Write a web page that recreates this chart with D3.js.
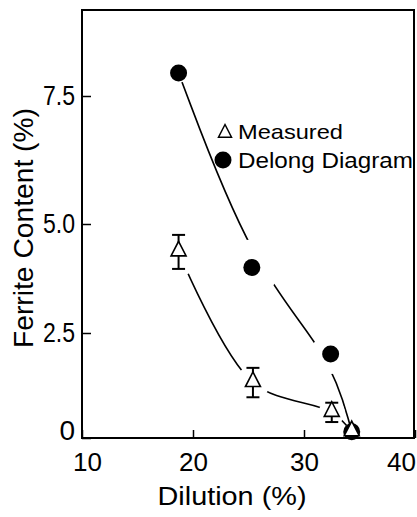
<!DOCTYPE html>
<html>
<head>
<meta charset="utf-8">
<script src="https://cdnjs.cloudflare.com/ajax/libs/d3/7.8.5/d3.min.js"></script>
<style>
  body { margin: 0; background: #fff; }
  svg { display: block; font-family: "Liberation Sans", Arial, sans-serif; }
</style>
</head>
<body>
<div id="chart"></div>
<script>
// Data
var xTicks = [10, 20, 30, 40];
var yTicks = [0, 2.5, 5.0, 7.5];
var yTickLabels = ['0', '2.5', '5.0', '7.5'];

var delongDilution = [18.7, 25.3, 32.4, 34.3];
var delongFerrite = [7.95, 4.0, 2.0, 0.15];

var measuredDilution = [18.7, 25.4, 32.5, 34.3];
var measuredFerrite = [4.36, 1.32, 0.61, 0.15];
var measuredError = [0.39, 0.35, 0.23, 0];

var seriesNames = ['Measured', 'Delong Diagram'];

// Layout
var WIDTH = 417;
var HEIGHT = 517;
var LEFT = 82, RIGHT = 414, TOP = 10, BOTTOM = 438;

// gap around each marker where the curve is broken (px)
var delongGap = [10, 28, 20, 8];
var measuredGap = [24, 17, 13, 8];

var svg = d3.select('#chart').append('svg')
  .attr('width', WIDTH)
  .attr('height', HEIGHT);

var x = d3.scaleLinear().domain([10, 40]).range([LEFT, RIGHT + 1]);
// the printed y axis is not evenly spaced, so map each tick piecewise
var y = d3.scaleLinear().domain(yTicks).range([BOTTOM, 333, 224, 96]);

var delong = delongDilution.map(function(d, i) {
  return { x: d, y: delongFerrite[i], gap: delongGap[i] };
});
var measured = measuredDilution.map(function(d, i) {
  return { x: d, y: measuredFerrite[i], err: measuredError[i], gap: measuredGap[i] };
});

// Mask that cuts the curves open around the markers
var mask = svg.append('defs').append('mask').attr('id', 'gaps');
mask.append('rect')
  .attr('width', WIDTH).attr('height', HEIGHT).attr('fill', '#fff');
mask.selectAll('circle')
  .data(delong.concat(measured))
  .enter().append('circle')
  .attr('cx', function(d) { return x(d.x); })
  .attr('cy', function(d) { return y(d.y); })
  .attr('r', function(d) { return d.gap; })
  .attr('fill', '#000');

// Frame
svg.append('rect')
  .attr('x', LEFT).attr('y', TOP)
  .attr('width', RIGHT - LEFT).attr('height', BOTTOM - TOP)
  .attr('fill', 'none').attr('stroke', '#000').attr('stroke-width', 2);

// Axes with inward ticks
var yAxis = svg.append('g')
  .attr('transform', 'translate(' + LEFT + ',0)')
  .call(d3.axisLeft(y).tickValues(yTicks).tickSize(-9).tickPadding(7)
    .tickFormat(function(d, i) { return yTickLabels[i]; }));
yAxis.select('.domain').remove();
yAxis.selectAll('line').attr('stroke-width', 1.5);
yAxis.selectAll('text')
  .attr('font-size', 28)
  .attr('fill', '#000')
  .each(function(d, i) {
    if (yTickLabels[i].length > 1) {
      d3.select(this).attr('textLength', 32).attr('lengthAdjust', 'spacingAndGlyphs');
    } else {
      d3.select(this).attr('dy', '0.05em');
    }
  });

var xShift = [5, 0, 0, -14];
var xAxis = svg.append('g')
  .attr('transform', 'translate(0,' + BOTTOM + ')')
  .call(d3.axisBottom(x).tickValues(xTicks).tickSize(-8).tickPadding(15)
    .tickFormat(d3.format('d')));
xAxis.select('.domain').remove();
xAxis.selectAll('line').attr('stroke-width', 1.5);
xAxis.selectAll('text')
  .attr('font-size', 26)
  .attr('fill', '#000')
  .attr('dx', function(d, i) { return xShift[i]; });

// Axis titles
svg.append('text')
  .attr('x', 232).attr('y', 505)
  .attr('text-anchor', 'middle')
  .attr('font-size', 25)
  .attr('textLength', 149).attr('lengthAdjust', 'spacingAndGlyphs')
  .text('Dilution (%)');

svg.append('text')
  .attr('transform', 'translate(33,228) rotate(-90)')
  .attr('text-anchor', 'middle')
  .attr('font-size', 28)
  .attr('textLength', 240).attr('lengthAdjust', 'spacingAndGlyphs')
  .text('Ferrite Content (%)');

// Curves: the Delong curve is a smoothed fit, the measured one runs through the points
function lineWith(curve) {
  return d3.line()
    .x(function(d) { return x(d.x); })
    .y(function(d) { return y(d.y); })
    .curve(curve);
}

var curves = svg.append('g').attr('mask', 'url(#gaps)');
curves.append('path')
  .attr('d', lineWith(d3.curveBasis)(delong));
curves.append('path')
  .attr('d', lineWith(d3.curveCatmullRom.alpha(0.5))(measured));
curves.selectAll('path')
  .attr('fill', 'none')
  .attr('stroke', '#000')
  .attr('stroke-width', 1.6);

// Triangle marker path centred on the data value
function trianglePath(cx, cy, s) {
  return 'M' + cx + ',' + (cy - s * 1.15) +
    'L' + (cx + s) + ',' + (cy + s * 0.8) +
    'L' + (cx - s) + ',' + (cy + s * 0.8) + 'Z';
}

// Delong diagram points
svg.append('g').selectAll('circle')
  .data(delong)
  .enter().append('circle')
  .attr('cx', function(d) { return x(d.x); })
  .attr('cy', function(d) { return y(d.y); })
  .attr('r', 8.5)
  .attr('fill', '#000');

// Measured error bars
var bars = svg.append('g')
  .attr('stroke', '#000')
  .attr('stroke-width', 2)
  .selectAll('g')
  .data(measured.filter(function(d) { return d.err > 0; }))
  .enter().append('g');
bars.append('line')
  .attr('x1', function(d) { return x(d.x); })
  .attr('x2', function(d) { return x(d.x); })
  .attr('y1', function(d) { return y(d.y - d.err); })
  .attr('y2', function(d) { return y(d.y + d.err); });
[-1, 1].forEach(function(sign) {
  bars.append('line')
    .attr('x1', function(d) { return x(d.x) - 6.5; })
    .attr('x2', function(d) { return x(d.x) + 6.5; })
    .attr('y1', function(d) { return y(d.y + sign * d.err); })
    .attr('y2', function(d) { return y(d.y + sign * d.err); });
});

// Measured points
svg.append('g').selectAll('path')
  .data(measured)
  .enter().append('path')
  .attr('d', function(d) { return trianglePath(x(d.x), y(d.y) - 2, 7.5); })
  .attr('fill', '#fff')
  .attr('stroke', '#000')
  .attr('stroke-width', 1.6);

// Legend
var legend = svg.append('g');
legend.append('path')
  .attr('d', trianglePath(225, 132, 6.5))
  .attr('fill', '#fff')
  .attr('stroke', '#000')
  .attr('stroke-width', 1.5);
legend.append('circle')
  .attr('cx', 223).attr('cy', 160).attr('r', 8.5)
  .attr('fill', '#000');
legend.append('text')
  .attr('x', 238).attr('y', 139)
  .attr('font-size', 21)
  .attr('textLength', 105).attr('lengthAdjust', 'spacingAndGlyphs')
  .text(seriesNames[0]);
legend.append('text')
  .attr('x', 238).attr('y', 168)
  .attr('font-size', 22)
  .attr('textLength', 175).attr('lengthAdjust', 'spacingAndGlyphs')
  .text(seriesNames[1]);
</script>
</body>
</html>
